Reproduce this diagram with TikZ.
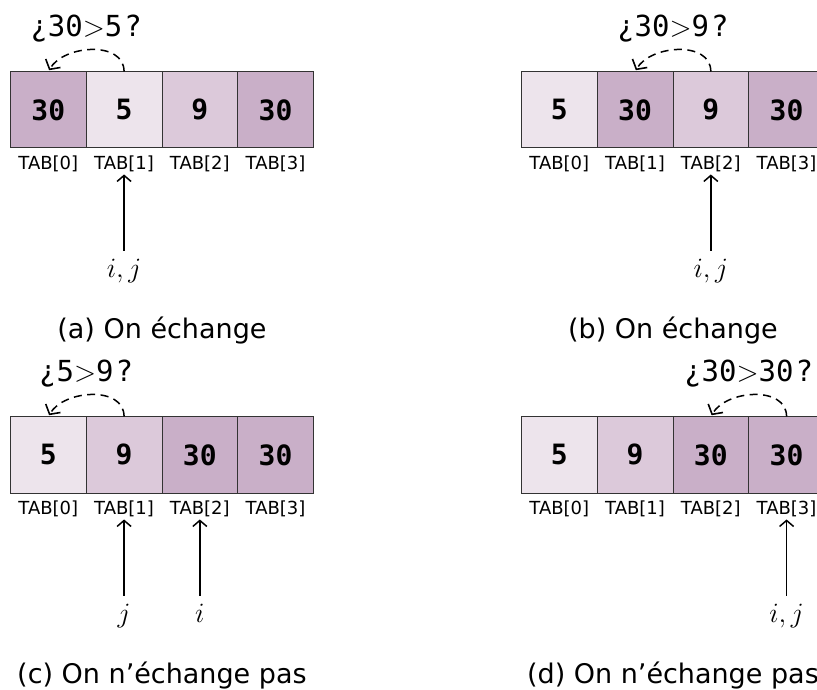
\RequirePackage{fix-cm}
\documentclass[tikz,border=0pt]{standalone}
\usepackage{fontspec}
\setmainfont{DejaVu Sans}
\setmonofont{DejaVu Sans Mono}
\usetikzlibrary{arrows.meta,calc}
\definecolor{cdark}{HTML}{C9AFC8}
\definecolor{cmid}{HTML}{DCC9DA}
\definecolor{clight}{HTML}{EDE4EC}
\definecolor{cborder}{HTML}{333333}
\tikzset{
  x=1pt, y=1pt,
  cell/.style={draw=cborder, line width=0.9pt, minimum width=75.75pt, minimum height=76pt,
    inner sep=0pt, anchor=north west, font=\ttfamily\bfseries\fontsize{28}{30}\selectfont},
  idx/.style={anchor=base, inner sep=2pt, font=\fontsize{18}{20}\selectfont},
  cmp/.style={anchor=base, inner sep=0pt, font=\ttfamily\fontsize{29}{32}\selectfont},
  ptr/.style={line width=1.7pt, -{Straight Barb[length=6pt,width=14pt,line width=1.5pt]}},
  cmparc/.style={line width=1.5pt, dash pattern=on 8pt off 5.5pt, shorten >=1.5pt,
    -{Straight Barb[length=7pt,width=17pt,line width=1.6pt]}},
  lbl/.style={anchor=base, inner sep=0pt, font=\fontsize{28}{30}\selectfont},
  caption/.style={anchor=base, inner sep=0pt, font=\fontsize{27}{30}\selectfont},
}
\begin{document}
\begin{tikzpicture}
\useasboundingbox (0,0) rectangle (817,689);
\clip (0,0) rectangle (817,689);

% ---------- panel (a)
\foreach \v/\c [count=\k from 0] in {30/cdark,5/clight,9/cmid,30/cdark}{
  \node[cell,fill=\c] (a\k) at (10+\k*75.75, 617.5) {\v};
  \node[idx] (ta\k) at ([yshift=-21.5pt]a\k.south) {TAB[\k]};
}
\node[cmp] (qa) at ($(a0.north)!0.5!(a1.north)+(0,34.5)$) {¿30$>$5\kern2pt?};
\draw[cmparc] (a1.north) to[out=90,in=60,looseness=1.05] (a0.north);
\node[lbl] (pa) at ([yshift=-108pt]ta1.base) {$i,j$};
\coordinate (sa) at ([yshift=-81pt]ta1.base);
\draw[ptr] (sa) -- (ta1.south);
\node[caption] (capa) at ([yshift=-190.5pt]$(a1.south)!0.5!(a2.south)$) {(a) On échange};

% ---------- panel (b)
\foreach \v/\c [count=\k from 0] in {5/clight,30/cdark,9/cmid,30/cdark}{
  \node[cell,fill=\c] (b\k) at (521+\k*75.75, 617.5) {\v};
  \node[idx] (tb\k) at ([yshift=-21.5pt]b\k.south) {TAB[\k]};
}
\node[cmp] (qb) at ($(b1.north)!0.5!(b2.north)+(0,34.5)$) {¿30$>$9\kern2pt?};
\draw[cmparc] (b2.north) to[out=90,in=60,looseness=1.05] (b1.north);
\node[lbl] (pb) at ([yshift=-108pt]tb2.base) {$i,j$};
\coordinate (sb) at ([yshift=-81pt]tb2.base);
\draw[ptr] (sb) -- (tb2.south);
\node[caption] (capb) at ([yshift=-190.5pt]$(b1.south)!0.5!(b2.south)$) {(b) On échange};

% ---------- panel (c)
\foreach \v/\c [count=\k from 0] in {5/clight,9/cmid,30/cdark,30/cdark}{
  \node[cell,fill=\c] (c\k) at (10+\k*75.75, 272.5) {\v};
  \node[idx] (tc\k) at ([yshift=-21.5pt]c\k.south) {TAB[\k]};
}
\node[cmp] (qc) at ($(c0.north)!0.5!(c1.north)+(0,34.5)$) {¿5$>$9\kern2pt?};
\draw[cmparc] (c1.north) to[out=90,in=60,looseness=1.05] (c0.north);
\node[lbl] (pcj) at ([yshift=-108pt]tc1.base) {$j$};
\coordinate (scj) at ([yshift=-81pt]tc1.base);
\draw[ptr] (scj) -- (tc1.south);
\node[lbl] (pci) at ([yshift=-108pt]tc2.base) {$i$};
\coordinate (sci) at ([yshift=-81pt]tc2.base);
\draw[ptr] (sci) -- (tc2.south);
\node[caption] (capc) at ([yshift=-190.5pt]$(c1.south)!0.5!(c2.south)$) {(c) On n’échange pas};

% ---------- panel (d)
\foreach \v/\c [count=\k from 0] in {5/clight,9/cmid,30/cdark,30/cdark}{
  \node[cell,fill=\c] (d\k) at (521+\k*75.75, 272.5) {\v};
  \node[idx] (td\k) at ([yshift=-21.5pt]d\k.south) {TAB[\k]};
}
\node[cmp] (qd) at ($(d2.north)!0.5!(d3.north)+(0,34.5)$) {¿30$>$30\kern2pt?};
\draw[cmparc] (d3.north) to[out=90,in=60,looseness=1.05] (d2.north);
\node[lbl] (pd) at ([yshift=-108pt]td3.base) {$i,j$};
\coordinate (sd) at ([yshift=-81pt]td3.base);
\draw[ptr] (sd) -- (td3.south);
\node[caption] (capd) at ([yshift=-190.5pt]$(d1.south)!0.5!(d2.south)$) {(d) On n’échange pas};
\end{tikzpicture}
\end{document}
